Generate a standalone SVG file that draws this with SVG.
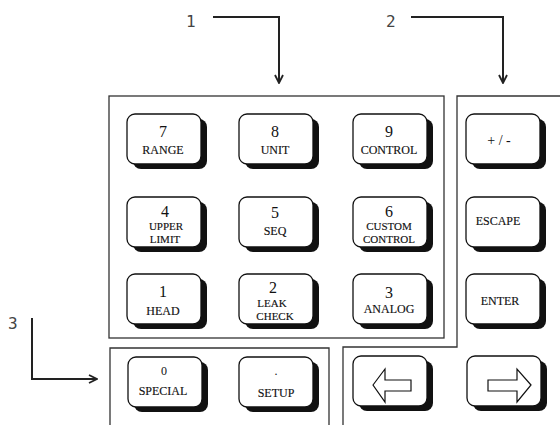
<svg xmlns="http://www.w3.org/2000/svg" width="560" height="425" viewBox="0 0 560 425">
<defs>
<style>
.panel{fill:none;stroke:#333;stroke-width:1.3}
.sh{fill:#111}
.face{fill:#fff;stroke:#111;stroke-width:1.3}
.num{font-family:"Liberation Serif","Times New Roman",serif;font-size:16px;fill:#111;text-anchor:middle}
.lbl{font-family:"Liberation Serif","Times New Roman",serif;font-size:12px;fill:#111;stroke:#111;stroke-width:0.15;text-anchor:middle}
.l2{font-size:11px}
.call{font-family:"DejaVu Sans Mono","Liberation Mono",monospace;font-size:16px;fill:#444}
.cl{fill:none;stroke:#222;stroke-width:2}
.arr{fill:#fff;stroke:#111;stroke-width:1.2;stroke-linejoin:miter}
</style>
<symbol id="key" viewBox="0 0 82 57" width="82" height="57">
<rect class="sh" x="7" y="6" width="74" height="50" rx="8"/>
<rect class="face" x="1" y="1" width="74" height="50" rx="8"/>
</symbol>
<marker id="chev" viewBox="0 0 10 10" refX="9" refY="5" markerWidth="10" markerHeight="10" markerUnits="userSpaceOnUse" orient="auto">
<path d="M1,1 L9,5 L1,9" fill="none" stroke="#222" stroke-width="1.8"/>
</marker>
</defs>
<rect width="560" height="425" fill="#fff"/>
<g id="panels">
<rect class="panel" x="109" y="96" width="335" height="242"/>
<path class="panel" d="M562,96 H457 V347 H343 V427"/>
<path class="panel" d="M110,427 V348 H329 V427"/>
</g>
<g id="connectors">
<path class="cl" d="M213,17 H279 V83" marker-end="url(#chev)"/>
<path class="cl" d="M411,17 H503 V83" marker-end="url(#chev)"/>
<path class="cl" d="M32,318 V379 H97" marker-end="url(#chev)"/>
</g>
<g id="callouts">
<text class="call" x="186" y="27">1</text>
<text class="call" x="386" y="27">2</text>
<text class="call" x="8" y="329">3</text>
</g>
<g id="key7"><use href="#key" x="126" y="113"/><text class="num" x="163" y="137">7</text><text class="lbl" x="163" y="154">RANGE</text></g>
<g id="key8"><use href="#key" x="238" y="113"/><text class="num" x="275" y="137">8</text><text class="lbl" x="275" y="154">UNIT</text></g>
<g id="key9"><use href="#key" x="352" y="113"/><text class="num" x="389" y="137">9</text><text class="lbl" x="389" y="154">CONTROL</text></g>
<g id="keyPM"><use href="#key" x="465" y="113"/><text class="lbl" x="499" y="145" style="font-size:14px;stroke-width:0">+ / -</text></g>
<g id="key4"><use href="#key" x="126" y="196"/><text class="num" x="165" y="217">4</text><text class="lbl l2" x="166" y="230">UPPER</text><text class="lbl l2" x="165" y="243">LIMIT</text></g>
<g id="key5"><use href="#key" x="238" y="196"/><text class="num" x="275" y="218">5</text><text class="lbl" x="275" y="235">SEQ</text></g>
<g id="key6"><use href="#key" x="352" y="196"/><text class="num" x="389" y="217">6</text><text class="lbl l2" x="389" y="230">CUSTOM</text><text class="lbl l2" x="389" y="243">CONTROL</text></g>
<g id="keyESC"><use href="#key" x="465" y="196"/><text class="lbl" x="498" y="225">ESCAPE</text></g>
<g id="key1"><use href="#key" x="126" y="273"/><text class="num" x="163" y="297">1</text><text class="lbl" x="163" y="315">HEAD</text></g>
<g id="key2"><use href="#key" x="238" y="273"/><text class="num" x="273" y="293">2</text><text class="lbl l2" x="272" y="307">LEAK</text><text class="lbl l2" x="275" y="320">CHECK</text></g>
<g id="key3"><use href="#key" x="352" y="273"/><text class="num" x="389" y="298">3</text><text class="lbl" x="389" y="313">ANALOG</text></g>
<g id="keyENT"><use href="#key" x="465" y="273"/><text class="lbl" x="500" y="305">ENTER</text></g>
<g id="key0"><use href="#key" x="127" y="356"/><text class="num" x="164" y="375" style="font-size:12px">0</text><text class="lbl" x="163" y="395">SPECIAL</text></g>
<g id="keyDot"><use href="#key" x="238" y="356"/><text class="num" x="276" y="375" style="font-size:12px">.</text><text class="lbl" x="276" y="397">SETUP</text></g>
<g id="keyLeft"><use href="#key" x="352" y="355"/><path class="arr" d="M373,385 L385,369 L385,380 L411,380 L411,391 L385,391 L385,402 Z"/></g>
<g id="keyRight"><use href="#key" x="466" y="355"/><path class="arr" d="M531,385 L517,369 L517,380 L488,380 L488,391 L517,391 L517,402 Z"/></g>
</svg>
